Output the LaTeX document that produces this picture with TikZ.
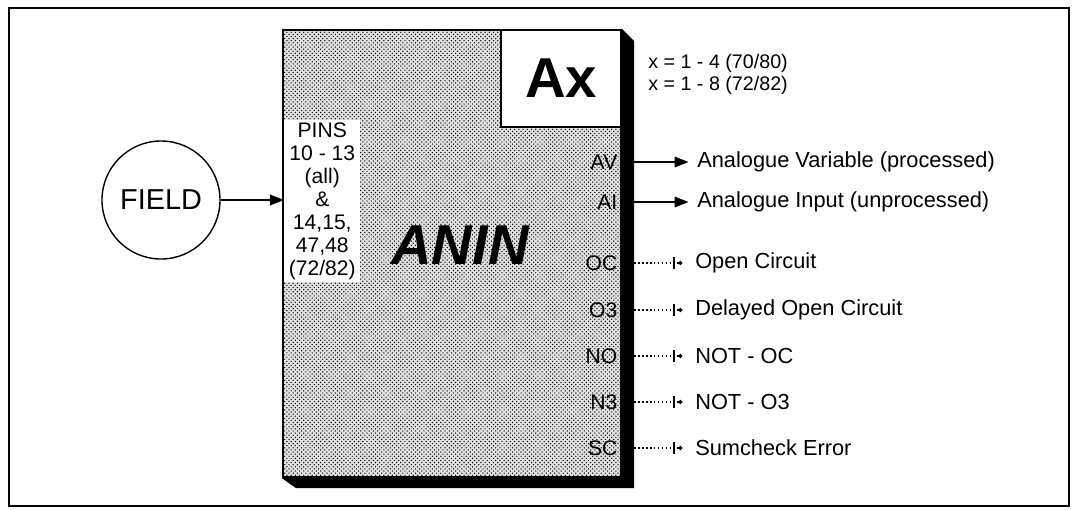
\documentclass[tikz,border=0pt]{standalone}
\usepackage{fontspec}
\setmainfont{Liberation Sans}
\usetikzlibrary{positioning,arrows.meta,patterns}

\begin{document}
\begin{tikzpicture}[
        x=0.025cm, y=-0.025cm,
        % --- STYLE CÁC HỘP ---
        frame/.style={draw, line width=1.3pt},
        field/.style={
            circle, draw, line width=1pt,
            minimum size=2.95cm, font=\fontsize{20.5}{24}\selectfont
        },
        block/.style={
            rectangle, draw, line width=1.5pt,
            preaction={fill=black!12}, pattern=crosshatch dots,
            minimum width=8.45cm, minimum height=11.175cm
        },
        idbox/.style={
            rectangle, draw, line width=1.5pt, fill=white,
            minimum width=3cm, minimum height=2.425cm,
            font=\fontsize{40}{44}\selectfont\bfseries
        },
        pinbox/.style={
            rectangle, fill=white, inner sep=0pt,
            minimum width=1.9cm, minimum height=4.05cm,
            align=center, font=\fontsize{15}{16.4}\selectfont
        },
        port/.style={anchor=east, inner sep=1pt, font=\fontsize{15}{17}\selectfont},
        outtext/.style={anchor=west, inner sep=0pt, font=\fontsize{15.5}{17}\selectfont},
        % --- STYLE CÁC ĐƯỜNG NỐI ---
        sig/.style={draw, line width=1.3pt, -{Triangle[length=10pt,width=7.5pt]}, shorten >=6pt},
        flag/.style={draw, line width=1.2pt, dash pattern=on 1.2pt off 1.6pt,
            -{Bar[width=8pt,line width=1.6pt,sep=2.2pt]Circle[length=2.8pt]}, shorten >=9pt}
    ]
    \useasboundingbox (0,0) rectangle (1074,509);
    \draw[frame] (9,8) rectangle (1069,506);

    % --- KHỐI ANIN ---
    \node[block] (box) at (452,253.5) {};
    \fill (box.north east) -- ++(12,12) -- ([shift={(12,10)}]box.south east)
        -- ([shift={(14,10)}]box.south west) -- (box.south west) -- (box.south east) -- cycle;
    \node[idbox, anchor=north east] (ax) at (box.north east) {Ax};
    \node[font=\fontsize{40}{44}\selectfont\bfseries\itshape] (anin) at (460,245) {ANIN};
    \node[pinbox, anchor=north west] (pins) at (284,120) {PINS\\10 - 13\\(all)\\\&\\14,15,\\47,48\\(72/82)};
    \node[anchor=north west, inner sep=0pt, align=left, font=\fontsize{14}{15.6}\selectfont]
        (xnote) at (648,54) {x = 1 - 4 (70/80)\\x = 1 - 8 (72/82)};
    \coordinate (shR) at ([xshift=0.3cm]box.east);

    % --- ĐẦU VÀO ---
    \node[field] (field) at (161,200) {FIELD};
    \draw[sig, shorten >=0pt] (field) -- (field -| pins.west);

    % --- ĐẦU RA ---
    \node[port] (pAV) at (619,162) {AV};
    \node[port] (pAI) at (619,202) {AI};
    \node[port] (pOC) at (619,263) {OC};
    \node[port] (pO3) at (619,310) {O3};
    \node[port] (pNO) at (619,356) {NO};
    \node[port] (pN3) at (619,402) {N3};
    \node[port] (pSC) at (619,448) {SC};

    \node[outtext] (tAV) at (697,162) {Analogue Variable (processed)};
    \node[outtext] (tAI) at (697,202) {Analogue Input (unprocessed)};
    \node[outtext] (tOC) at (695,263) {Open Circuit};
    \node[outtext] (tO3) at (695,310) {Delayed Open Circuit};
    \node[outtext] (tNO) at (695,356) {NOT - OC};
    \node[outtext] (tN3) at (695,402) {NOT - O3};
    \node[outtext] (tSC) at (695,448) {Sumcheck Error};

    \draw[sig] (pAV -| shR) -- (tAV);
    \draw[sig] (pAI -| shR) -- (tAI);
    \draw[flag] (pOC -| shR) -- (tOC);
    \draw[flag] (pO3 -| shR) -- (tO3);
    \draw[flag] (pNO -| shR) -- (tNO);
    \draw[flag] (pN3 -| shR) -- (tN3);
    \draw[flag] (pSC -| shR) -- (tSC);

\end{tikzpicture}
\end{document}
